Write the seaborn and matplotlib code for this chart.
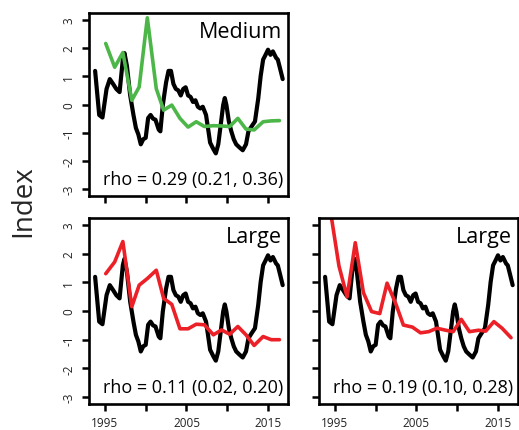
import matplotlib
matplotlib.use("Agg")
import matplotlib.pyplot as plt
import seaborn as sns
import pandas as pd

# ---- data ----
index_year = [1993.8, 1994.3, 1994.7, 1995.2, 1995.6, 1996.0, 1996.4, 1996.8, 1997.2, 1997.4,
              1997.7, 1998.1, 1998.5, 1998.8, 1999.1, 1999.4, 1999.7, 2000.0, 2000.3, 2000.6,
              2000.9, 2001.2, 2001.6, 2001.8, 2002.1, 2002.5, 2002.8, 2003.1, 2003.4, 2003.7,
              2004.0, 2004.3, 2004.6, 2004.9, 2005.2, 2005.5, 2005.8, 2006.1, 2006.4, 2006.7,
              2007.0, 2007.4, 2007.7, 2007.9, 2008.3, 2008.6, 2008.9, 2009.2, 2009.5, 2009.7,
              2009.9, 2010.2, 2010.5, 2010.8, 2011.1, 2011.5, 2011.9, 2012.3, 2012.6, 2013.0,
              2013.4, 2013.8, 2014.1, 2014.4, 2014.7, 2015.0, 2015.3, 2015.6, 2016.0, 2016.2,
              2016.5, 2016.8]
index_val = [1.19, -0.37, -0.46, 0.55, 0.90, 0.73, 0.55, 0.44, 1.60, 1.82,
             1.36, 0.32, -0.37, -0.83, -1.06, -1.41, -1.23, -1.18, -0.48, -0.37,
             -0.50, -0.54, -0.89, -0.95, -0.02, 0.78, 1.19, 1.19, 0.73, 0.55,
             0.50, 0.32, 0.55, 0.61, 0.32, 0.27, 0.09, 0.15, -0.08, -0.14,
             -0.08, -0.37, -0.95, -1.35, -1.58, -1.73, -1.41, -0.72, -0.02, 0.23,
             -0.02, -0.60, -0.95, -1.23, -1.41, -1.52, -1.62, -1.41, -0.95, -0.77,
             -0.60, 0.21, 1.01, 1.59, 1.76, 1.94, 1.76, 1.88, 1.65, 1.59,
             1.25, 0.90]

annual_year = [1995.1, 1996.2, 1997.2, 1998.3, 1999.2, 2000.2, 2001.3, 2002.2, 2003.2, 2004.2, 2005.2,
               2006.2, 2007.2, 2008.3, 2009.3, 2010.3, 2011.3, 2012.3, 2013.3, 2014.4, 2015.4, 2016.4]
medium_val = [2.16, 1.32, 1.84, 0.15, 0.62, 3.07, 0.56, -0.20, -0.02, -0.49, -0.80,
              -0.61, -0.78, -0.75, -0.76, -0.78, -0.49, -0.87, -0.90, -0.61, -0.58, -0.57]
large1_val = [1.30, 1.71, 2.42, 0.15, 0.90, 1.13, 1.42, 0.44, 0.23, -0.62, -0.62,
              -0.46, -0.48, -0.83, -0.66, -0.81, -0.54, -0.83, -1.20, -0.89, -1.00, -1.00]

large2_year = [1994.5, 1995.5, 1996.5, 1997.5, 1998.5, 1999.5, 2000.5, 2001.4, 2002.5, 2003.4, 2004.5,
               2005.5, 2006.5, 2007.5, 2008.6, 2009.5, 2010.5, 2011.5, 2012.6, 2013.5, 2014.5, 2015.5,
               2016.6]
large2_val = [3.40, 1.57, 0.49, 2.38, 0.64, -0.02, -0.09, 0.97, 0.23, -0.49, -0.56,
              -0.76, -0.72, -0.60, -0.67, -0.72, -0.29, -0.72, -0.67, -0.70, -0.37, -0.60,
              -0.93]

panel_titles = ["Medium", "Large", "Large"]
rho_texts = ["rho = 0.29 (0.21, 0.36)", "rho = 0.11 (0.02, 0.20)", "rho = 0.19 (0.10, 0.28)"]
x_ticks = [1995, 2000, 2005, 2010, 2015]
x_ticklabels = ["1995", "", "2005", "", "2015"]
y_ticks = [-3, -2, -1, 0, 1, 2, 3]

GREEN = "#4cb748"
RED = "#ec2027"

sns.set_style("ticks")
plt.rcParams["font.family"] = ["Open Sans", "DejaVu Sans"]

fig = plt.figure(figsize=(5.19, 4.31), dpi=100)
positions = [
    [0.1715, 0.5429, 0.3834, 0.4246],
    [0.1715, 0.0603, 0.3834, 0.4316],
    [0.6146, 0.0603, 0.3834, 0.4316],
]
series = [
    (annual_year, medium_val, GREEN),
    (annual_year, large1_val, RED),
    (large2_year, large2_val, RED),
]

df_index = pd.DataFrame({"year": index_year, "value": index_val})

for i, pos in enumerate(positions):
    ax = fig.add_axes(pos)
    sx, sy, col = series[i]
    df_s = pd.DataFrame({"year": sx, "value": sy})
    sns.lineplot(data=df_index, x="year", y="value", ax=ax, color="black",
                 linewidth=3.0, estimator=None, sort=False)
    sns.lineplot(data=df_s, x="year", y="value", ax=ax, color=col,
                 linewidth=2.6, estimator=None, sort=False)
    ax.set_xlim(1993.05, 2017.45)
    ax.set_ylim(-3.24, 3.24)
    ax.set_xlabel("")
    ax.set_ylabel("")
    for sp in ax.spines.values():
        sp.set_visible(True)
        sp.set_linewidth(1.9)
        sp.set_color("black")
    ax.set_xticks(x_ticks)
    ax.set_yticks(y_ticks)
    ax.tick_params(axis="both", length=5.0, width=1.8, color="black",
                   labelsize=8.5, labelcolor="#222222")
    ax.tick_params(axis="x", pad=3.5)
    ax.tick_params(axis="y", pad=5)
    if i == 0:
        ax.set_xticklabels([""] * len(x_ticks))
    else:
        ax.set_xticklabels(x_ticklabels)
    if i == 2:
        ax.set_yticklabels([""] * len(y_ticks))
    else:
        ax.set_yticklabels([str(v) for v in y_ticks], rotation=90, va="center")
    ax.text(0.97, 0.955, panel_titles[i], transform=ax.transAxes,
            ha="right", va="top", fontsize=15.5, color="black")
    ax.text(0.975, 0.045, rho_texts[i], transform=ax.transAxes,
            ha="right", va="bottom", fontsize=13, color="black")

fig.text(0.045, 0.534, "Index", rotation=90, ha="center", va="center", fontsize=20)

fig.savefig("out.png", dpi=100)
